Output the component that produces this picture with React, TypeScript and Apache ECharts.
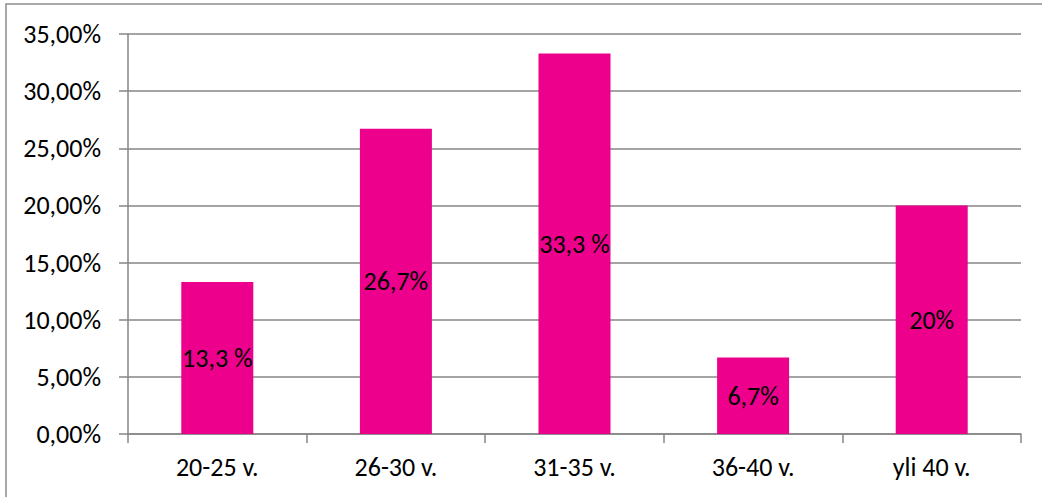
import React, { useEffect, useRef } from "react";
import * as echarts from "echarts";

// Age groups and their shares
const categories = ["20-25 v.", "26-30 v.", "31-35 v.", "36-40 v.", "yli 40 v."];
const shares = [0.133, 0.267, 0.333, 0.067, 0.2];
const barLabels = ["13,3 %", "26,7%", "33,3 %", "6,7%", "20%"];

const FONT = "Carlito, Calibri, sans-serif";
const GREY = "#868686";
const MAGENTA = "#EC008C";
const FS = 26;

export default function App() {
  const ref = useRef<HTMLDivElement>(null);

  useEffect(() => {
    if (!ref.current) return;
    const chart = echarts.init(ref.current, null, { renderer: "svg" });
    chart.setOption({
      animation: false,
      backgroundColor: "#ffffff",
      textStyle: { fontFamily: FONT },
      graphic: [
        {
          type: "rect",
          shape: { x: 6, y: 4, width: 1100, height: 600 },
          style: { fill: "none", stroke: "#8c8c8c", lineWidth: 1.5 },
          silent: true,
          z: -1,
        },
      ],
      grid: { left: 128, top: 34, right: 21, bottom: 63, containLabel: false },
      xAxis: {
        type: "category",
        data: categories,
        boundaryGap: true,
        axisLine: { show: true, lineStyle: { color: GREY, width: 1.5 } },
        axisTick: { show: true, alignWithLabel: false, length: 9, lineStyle: { color: GREY, width: 1.5 } },
        axisLabel: { color: "#000", fontSize: FS, fontFamily: FONT, margin: 20 },
        splitLine: { show: false },
      },
      yAxis: {
        type: "value",
        min: 0,
        max: 0.35,
        interval: 0.05,
        axisLine: { show: true, lineStyle: { color: GREY, width: 1.5 } },
        axisTick: { show: true, length: 9, lineStyle: { color: GREY, width: 1.5 } },
        axisLabel: {
          color: "#000",
          fontSize: FS,
          fontFamily: FONT,
          margin: 27,
          formatter: (v: number) => (v * 100).toFixed(2).replace(".", ",") + "%",
        },
        splitLine: { show: true, lineStyle: { color: GREY, width: 1.5 } },
      },
      series: [
        {
          type: "bar",
          data: shares,
          barWidth: 72,
          itemStyle: { color: MAGENTA },
          label: {
            show: true,
            position: "inside",
            color: "#000",
            fontSize: FS,
            fontFamily: FONT,
            formatter: (p: any) => barLabels[p.dataIndex],
          },
        },
      ],
    });
    return () => chart.dispose();
  }, []);

  return (
    <div
      ref={ref}
      style={{ position: "fixed", left: 0, top: 0, width: 1042, height: 497 }}
    />
  );
}
